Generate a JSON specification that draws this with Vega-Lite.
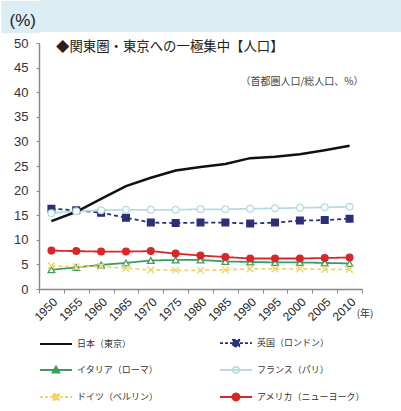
{
  "$schema": "https://vega.github.io/schema/vega-lite/v6.json",
  "background": "white",
  "padding": 0,
  "spacing": 4,
  "columns": 1,
  "config": {
    "view": {"stroke": null},
    "font": "Liberation Sans",
    "legend": {
      "orient": "none",
      "direction": "horizontal",
      "legendX": 0,
      "legendY": 283,
      "columns": 2,
      "symbolSize": 1024,
      "symbolStrokeWidth": 1.8,
      "symbolOpacity": 1,
      "labelFont": "Noto Sans CJK JP",
      "labelFontSize": 9,
      "labelColor": "#333",
      "labelOffset": 4,
      "columnPadding": 57,
      "rowPadding": 3
    }
  },
  "concat": [
    {
      "width": 401,
      "height": 32,
      "view": {"fill": "#dcedf4", "stroke": null},
      "data": {"values": [{"v": 0.5}]},
      "mark": {"type": "point", "opacity": 0},
      "encoding": {
        "y": {"field": "v", "type": "quantitative", "scale": {"domain": [0, 1], "nice": false},
          "axis": {"title": null, "values": [0.015625,0.046875,0.078125,0.109375,0.140625,0.171875,0.203125,0.234375,0.265625,0.296875,0.328125,0.359375,0.390625,0.421875,0.453125,0.484375,0.515625,0.546875,0.578125,0.609375,0.640625,0.671875,0.703125,0.734375,0.765625,0.796875,0.828125,0.859375,0.890625,0.921875,0.953125,0.984375],
            "domain": false, "grid": false, "tickSize": 38, "tickWidth": 1.3, "tickColor": "#dcedf4", "tickCap": "butt",
            "labelExpr": "datum.value > 0.5 && datum.value < 0.53 ? '(%)' : ''",
            "labelFontSize": {"condition": {"test": "datum.value > 0.5 && datum.value < 0.53", "value": 17}, "value": 0},
            "labelOffset": {"condition": {"test": "datum.value > 0.5 && datum.value < 0.53", "value": 5}, "value": 0},
            "labelAlign": "left", "labelPadding": -8, "labelColor": "#222", "labelBaseline": "middle", "labelFont": "Liberation Sans", "minExtent": 38, "maxExtent": 38, "labelBound": false, "labelOverlap": false}}
      }
    },
    {
      "width": 323,
      "height": 246,
      "title": {"text": "◆関東圏・東京への一極集中【人口】", "anchor": "start", "frame": "group", "dx": 17, "offset": -16, "fontSize": 13.4, "fontWeight": "normal", "color": "#222", "font": "Noto Sans CJK JP"},
      "data": {"values": [
        {"year":1950,"series":"日本（東京）","value":13.8},{"year":1955,"series":"日本（東京）","value":15.7},{"year":1960,"series":"日本（東京）","value":18.3},{"year":1965,"series":"日本（東京）","value":20.9},{"year":1970,"series":"日本（東京）","value":22.6},{"year":1975,"series":"日本（東京）","value":24.1},{"year":1980,"series":"日本（東京）","value":24.8},{"year":1985,"series":"日本（東京）","value":25.4},{"year":1990,"series":"日本（東京）","value":26.6},{"year":1995,"series":"日本（東京）","value":26.9},{"year":2000,"series":"日本（東京）","value":27.4},{"year":2005,"series":"日本（東京）","value":28.2},{"year":2010,"series":"日本（東京）","value":29.1},
        {"year":1950,"series":"英国（ロンドン）","value":16.3},{"year":1955,"series":"英国（ロンドン）","value":16.0},{"year":1960,"series":"英国（ロンドン）","value":15.5},{"year":1965,"series":"英国（ロンドン）","value":14.5},{"year":1970,"series":"英国（ロンドン）","value":13.5},{"year":1975,"series":"英国（ロンドン）","value":13.4},{"year":1980,"series":"英国（ロンドン）","value":13.5},{"year":1985,"series":"英国（ロンドン）","value":13.5},{"year":1990,"series":"英国（ロンドン）","value":13.3},{"year":1995,"series":"英国（ロンドン）","value":13.5},{"year":2000,"series":"英国（ロンドン）","value":13.9},{"year":2005,"series":"英国（ロンドン）","value":14.0},{"year":2010,"series":"英国（ロンドン）","value":14.3},
        {"year":1950,"series":"イタリア（ローマ）","value":3.9},{"year":1955,"series":"イタリア（ローマ）","value":4.4},{"year":1960,"series":"イタリア（ローマ）","value":4.9},{"year":1965,"series":"イタリア（ローマ）","value":5.3},{"year":1970,"series":"イタリア（ローマ）","value":5.8},{"year":1975,"series":"イタリア（ローマ）","value":5.9},{"year":1980,"series":"イタリア（ローマ）","value":5.9},{"year":1985,"series":"イタリア（ローマ）","value":5.6},{"year":1990,"series":"イタリア（ローマ）","value":5.5},{"year":1995,"series":"イタリア（ローマ）","value":5.4},{"year":2000,"series":"イタリア（ローマ）","value":5.4},{"year":2005,"series":"イタリア（ローマ）","value":5.3},{"year":2010,"series":"イタリア（ローマ）","value":5.2},
        {"year":1950,"series":"フランス（パリ）","value":15.4},{"year":1955,"series":"フランス（パリ）","value":15.8},{"year":1960,"series":"フランス（パリ）","value":16.0},{"year":1965,"series":"フランス（パリ）","value":16.1},{"year":1970,"series":"フランス（パリ）","value":16.1},{"year":1975,"series":"フランス（パリ）","value":16.1},{"year":1980,"series":"フランス（パリ）","value":16.2},{"year":1985,"series":"フランス（パリ）","value":16.2},{"year":1990,"series":"フランス（パリ）","value":16.3},{"year":1995,"series":"フランス（パリ）","value":16.4},{"year":2000,"series":"フランス（パリ）","value":16.5},{"year":2005,"series":"フランス（パリ）","value":16.6},{"year":2010,"series":"フランス（パリ）","value":16.7},
        {"year":1950,"series":"ドイツ（ベルリン）","value":4.7},{"year":1955,"series":"ドイツ（ベルリン）","value":4.5},{"year":1960,"series":"ドイツ（ベルリン）","value":4.6},{"year":1965,"series":"ドイツ（ベルリン）","value":4.2},{"year":1970,"series":"ドイツ（ベルリン）","value":3.9},{"year":1975,"series":"ドイツ（ベルリン）","value":3.8},{"year":1980,"series":"ドイツ（ベルリン）","value":3.8},{"year":1985,"series":"ドイツ（ベルリン）","value":3.9},{"year":1990,"series":"ドイツ（ベルリン）","value":4.1},{"year":1995,"series":"ドイツ（ベルリン）","value":4.1},{"year":2000,"series":"ドイツ（ベルリン）","value":4.1},{"year":2005,"series":"ドイツ（ベルリン）","value":4.0},{"year":2010,"series":"ドイツ（ベルリン）","value":4.0},
        {"year":1950,"series":"アメリカ（ニューヨーク）","value":7.8},{"year":1955,"series":"アメリカ（ニューヨーク）","value":7.7},{"year":1960,"series":"アメリカ（ニューヨーク）","value":7.6},{"year":1965,"series":"アメリカ（ニューヨーク）","value":7.6},{"year":1970,"series":"アメリカ（ニューヨーク）","value":7.7},{"year":1975,"series":"アメリカ（ニューヨーク）","value":7.2},{"year":1980,"series":"アメリカ（ニューヨーク）","value":6.8},{"year":1985,"series":"アメリカ（ニューヨーク）","value":6.5},{"year":1990,"series":"アメリカ（ニューヨーク）","value":6.2},{"year":1995,"series":"アメリカ（ニューヨーク）","value":6.2},{"year":2000,"series":"アメリカ（ニューヨーク）","value":6.2},{"year":2005,"series":"アメリカ（ニューヨーク）","value":6.3},{"year":2010,"series":"アメリカ（ニューヨーク）","value":6.4}
      ]},
      "encoding": {
        "x": {"field": "year", "type": "ordinal", "scale": {"type": "band", "paddingInner": 0, "paddingOuter": 0},
          "axis": {"title": "(年)", "labelAngle": -45, "labelFontSize": 12, "labelColor": "#222", "tickBand": "extent", "tickSize": 4, "tickColor": "#888", "domainColor": "#888", "domainWidth": 1.5, "grid": false, "labelPadding": 3,
            "titleX": 334, "titleY": 24, "titleAlign": "right", "titleBaseline": "middle", "titleFontSize": 10, "titleFontWeight": "normal", "titleColor": "#333", "titleFont": "Noto Sans CJK JP"}},
        "y": {"field": "value", "type": "quantitative", "scale": {"domain": [0, 50], "nice": false},
          "axis": {"title": null, "values": [0,5,10,15,20,25,30,35,40,45,50], "labelFontSize": 13, "labelColor": "#333", "tickSize": 3, "tickColor": "#888", "minExtent": 38, "labelPadding": 8, "domainColor": "#888", "domainWidth": 1.5, "grid": false}}
      },
      "layer": [
        {
          "transform": [{"filter": "datum.series !== '日本（東京）'"}],
          "mark": {"type": "line", "strokeWidth": 1.8},
          "encoding": {
            "color": {"field": "series", "type": "nominal", "legend": null,
              "scale": {"domain": ["英国（ロンドン）","イタリア（ローマ）","フランス（パリ）","ドイツ（ベルリン）","アメリカ（ニューヨーク）"], "range": ["#2a2f78","#3a9d5d","#b5dce3","#f2d36b","#d8262b"]}},
            "strokeDash": {"field": "series", "type": "nominal", "legend": null,
              "scale": {"domain": ["英国（ロンドン）","イタリア（ローマ）","フランス（パリ）","ドイツ（ベルリン）","アメリカ（ニューヨーク）"], "range": [[4,3],[1,0],[1,0],[4,3],[1,0]]}}
          }
        },
        {
          "transform": [{"filter": "datum.series === '日本（東京）'"}],
          "mark": {"type": "line", "strokeWidth": 2.5, "color": "#111"},
          "encoding": {}
        },
        {
          "transform": [{"filter": "datum.series !== '日本（東京）'"}],
          "mark": {"type": "point", "size": 45, "strokeWidth": 1.3, "opacity": 1, "filled": true},
          "encoding": {
            "shape": {"field": "series", "type": "nominal", "legend": null,
              "scale": {"domain": ["英国（ロンドン）","イタリア（ローマ）","フランス（パリ）","ドイツ（ベルリン）","アメリカ（ニューヨーク）"], "range": ["square","triangle-up","circle","M-1,-1L1,1M-1,1L1,-1","circle"]}},
            "fill": {"field": "series", "type": "nominal", "legend": null,
              "scale": {"domain": ["英国（ロンドン）","イタリア（ローマ）","フランス（パリ）","ドイツ（ベルリン）","アメリカ（ニューヨーク）"], "range": ["#2a2f78","#ffffff","#ffffff","#f2d36b","#d8262b"]}},
            "stroke": {"field": "series", "type": "nominal", "legend": null,
              "scale": {"domain": ["英国（ロンドン）","イタリア（ローマ）","フランス（パリ）","ドイツ（ベルリン）","アメリカ（ニューヨーク）"], "range": ["#2a2f78","#3a9d5d","#b5dce3","#f2d36b","#d8262b"]}}
          }
        },
        {
          "mark": {"type": "point", "opacity": 0, "filled": true},
          "encoding": {
            "shape": {"field": "series", "type": "nominal", "title": null,
              "scale": {"domain": ["日本（東京）","英国（ロンドン）","イタリア（ローマ）","フランス（パリ）","ドイツ（ベルリン）","アメリカ（ニューヨーク）"],
                "range": ["M-1,0H1","M-1,0H1M-0.2,-0.2H0.2V0.2H-0.2Z","M-1,0H1M0,-0.22L0.22,0.17H-0.22Z","M-1,0H1M-0.2,0A0.2,0.2,0,1,1,0.2,0A0.2,0.2,0,1,1,-0.2,0Z","M-1,0H1M-0.18,-0.18H0.18V0.18H-0.18Z","M-1,0H1M-0.22,0A0.22,0.22,0,1,1,0.22,0A0.22,0.22,0,1,1,-0.22,0Z"]}},
            "fill": {"field": "series", "type": "nominal", "title": null,
              "scale": {"domain": ["日本（東京）","英国（ロンドン）","イタリア（ローマ）","フランス（パリ）","ドイツ（ベルリン）","アメリカ（ニューヨーク）"], "range": ["#111111","#2a2f78","#3a9d5d","#ffffff","#f2d36b","#d8262b"]}},
            "stroke": {"field": "series", "type": "nominal", "title": null,
              "scale": {"domain": ["日本（東京）","英国（ロンドン）","イタリア（ローマ）","フランス（パリ）","ドイツ（ベルリン）","アメリカ（ニューヨーク）"], "range": ["#111111","#2a2f78","#3a9d5d","#b5dce3","#f2d36b","#d8262b"]}},
            "strokeDash": {"field": "series", "type": "nominal", "title": null,
              "scale": {"domain": ["日本（東京）","英国（ロンドン）","イタリア（ローマ）","フランス（パリ）","ドイツ（ベルリン）","アメリカ（ニューヨーク）"], "range": [[1,0],[3,2],[1,0],[1,0],[3,2],[1,0]]}}
          }
        },
        {
          "data": {"values": [{"year": 2010, "value": 42.1, "label": "（首都圏人口/総人口、%）"}]},
          "mark": {"type": "text", "fontSize": 10, "color": "#444", "font": "Noto Sans CJK JP", "align": "right", "dx": 14},
          "encoding": {"text": {"field": "label"}}
        }
      ],
      "resolve": {"scale": {"color": "independent", "shape": "independent", "fill": "independent", "stroke": "independent", "strokeDash": "independent"}}
    }
  ]
}
